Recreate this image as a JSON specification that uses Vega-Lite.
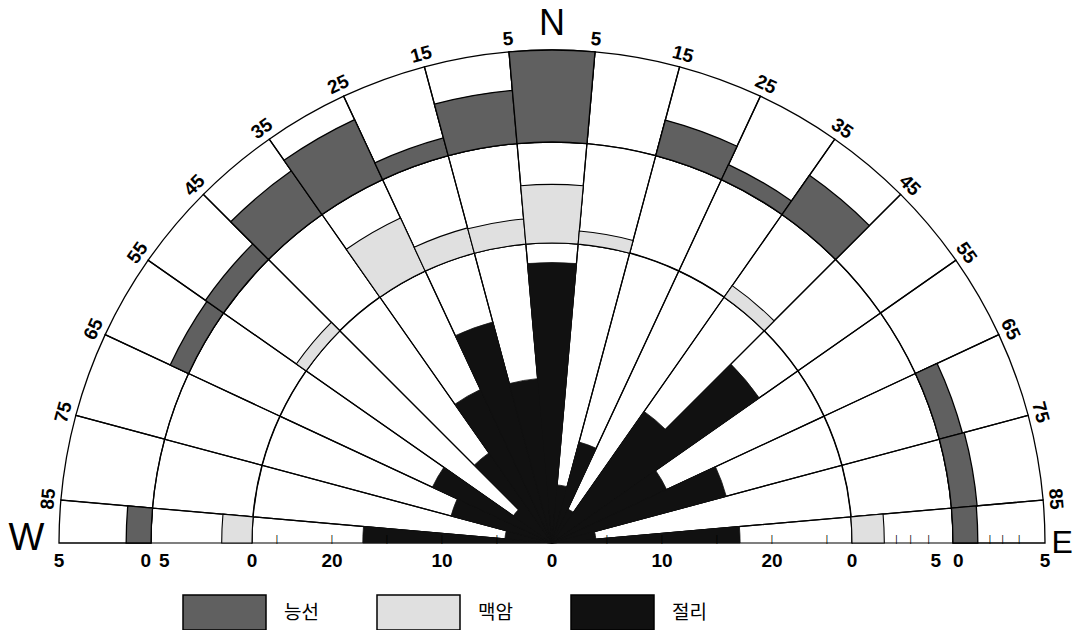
{
  "$schema": "https://vega.github.io/schema/vega-lite/v6.json",
  "width": 1036,
  "height": 543,
  "autosize": {"type": "none"},
  "padding": {"left": 34, "right": 4, "top": 0, "bottom": 87},
  "background": "white",
  "config": {"view": {"stroke": null}, "text": {"font": "Liberation Sans"}},
  "datasets": {
    "rose": [
      {"from": -90, "to": -85, "ridge": 1.35, "dyke": 1.5, "joint": 17.2},
      {"from": -85, "to": -75, "ridge": 0, "dyke": 0, "joint": 4.3},
      {"from": -75, "to": -65, "ridge": 0, "dyke": 0, "joint": 9.5},
      {"from": -65, "to": -55, "ridge": 1.1, "dyke": 0, "joint": 12},
      {"from": -55, "to": -45, "ridge": 1.2, "dyke": 0.6, "joint": 4.3},
      {"from": -45, "to": -35, "ridge": 2.9, "dyke": 0, "joint": 10},
      {"from": -35, "to": -25, "ridge": 3.6, "dyke": 2.9, "joint": 15.4},
      {"from": -25, "to": -15, "ridge": 1.0, "dyke": 1.3, "joint": 20.8},
      {"from": -15, "to": -5, "ridge": 2.9, "dyke": 1.25, "joint": 15},
      {"from": -5, "to": 5, "ridge": 5, "dyke": 2.9, "joint": 25.5},
      {"from": 5, "to": 15, "ridge": 0, "dyke": 0.65, "joint": 5.3},
      {"from": 15, "to": 25, "ridge": 2.0, "dyke": 0, "joint": 9.5},
      {"from": 25, "to": 35, "ridge": 0.9, "dyke": 0, "joint": 3.4},
      {"from": 35, "to": 45, "ridge": 2.6, "dyke": 0.7, "joint": 14.6},
      {"from": 45, "to": 55, "ridge": 0, "dyke": 0, "joint": 23},
      {"from": 55, "to": 65, "ridge": 0, "dyke": 0, "joint": 11.5},
      {"from": 65, "to": 75, "ridge": 1.3, "dyke": 0, "joint": 16.4},
      {"from": 75, "to": 85, "ridge": 1.4, "dyke": 0, "joint": 4},
      {"from": 85, "to": 90, "ridge": 1.35, "dyke": 1.6, "joint": 17.1}
    ],
    "deg": [
      {"az": -85, "label": "85"}, {"az": -75, "label": "75"}, {"az": -65, "label": "65"},
      {"az": -55, "label": "55"}, {"az": -45, "label": "45"}, {"az": -35, "label": "35"},
      {"az": -25, "label": "25"}, {"az": -15, "label": "15"}, {"az": -5, "label": "5"},
      {"az": 5, "label": "5"}, {"az": 15, "label": "15"}, {"az": 25, "label": "25"},
      {"az": 35, "label": "35"}, {"az": 45, "label": "45"}, {"az": 55, "label": "55"},
      {"az": 65, "label": "65"}, {"az": 75, "label": "75"}, {"az": 85, "label": "85"}
    ],
    "innerAxis": [
      {"az": -90, "value": 20, "label": "20"}, {"az": -90, "value": 10, "label": "10"},
      {"az": 0, "value": 0, "label": "0"},
      {"az": 90, "value": 10, "label": "10"}, {"az": 90, "value": 20, "label": "20"}
    ],
    "innerTicks": [
      {"az": -90, "value": 5}, {"az": -90, "value": 10}, {"az": -90, "value": 15}, {"az": -90, "value": 20}, {"az": -90, "value": 25},
      {"az": 90, "value": 5}, {"az": 90, "value": 10}, {"az": 90, "value": 15}, {"az": 90, "value": 20}, {"az": 90, "value": 25}
    ],
    "midTicks": [{"az": 90, "value": 2.2}, {"az": 90, "value": 2.9}, {"az": 90, "value": 3.8}],
    "outerTicks": [{"az": 90, "value": 2.0}, {"az": 90, "value": 2.7}, {"az": 90, "value": 3.6}],
    "zeroLabels": [{"az": -90, "value": 0, "label": "0"}, {"az": 90, "value": 0, "label": "0"}],
    "fiveLabels": [{"az": -90, "value": 5, "label": "5"}, {"az": 90, "value": 5, "label": "5"}],
    "leftFive": [{"az": -90, "value": 5, "label": "5"}],
    "rightFive": [{"az": 90, "value": 5, "label": "5"}],
    "leftZero": [{"az": -90, "value": 0, "label": "0"}],
    "rightZero": [{"az": 90, "value": 0, "label": "0"}],
    "north": [{"az": 0, "label": "N"}],
    "west": [{"az": -90, "label": "W"}],
    "east": [{"az": 90, "label": "E"}]
  },
  "layer": [
    {
      "layer": [
        {
          "data": {"name": "rose"},
          "mark": {"type": "arc", "x": {"expr": "width/2"}, "y": "height", "fillOpacity": 0, "stroke": "black", "strokeWidth": 1.2},
          "encoding": {
            "theta": {"field": "from", "type": "quantitative", "stack": null, "scale": {"type": "linear", "domain": [-90, 90], "range": [-1.5707963, 1.5707963]}},
            "theta2": {"field": "to"},
            "radius": {"datum": 27.3, "type": "quantitative", "scale": {"type": "linear", "domain": [0, 10], "range": [0, 110], "zero": false, "nice": false}},
            "radius2": {"datum": 0}
          }
        },
        {
          "data": {"name": "rose"},
          "transform": [{"filter": "datum.joint > 0"}],
          "mark": {"type": "arc", "x": {"expr": "width/2"}, "y": "height", "stroke": "#111111", "strokeWidth": 0.8},
          "encoding": {
            "theta": {"field": "from", "type": "quantitative", "stack": null, "scale": {"type": "linear", "domain": [-90, 90], "range": [-1.5707963, 1.5707963]}},
            "theta2": {"field": "to"},
            "radius": {"field": "joint", "type": "quantitative", "scale": {"type": "linear", "domain": [0, 10], "range": [0, 110], "zero": false, "nice": false}},
            "radius2": {"datum": 0},
            "fill": {"datum": "절리", "type": "nominal",
              "scale": {"domain": ["능선", "맥암", "절리"], "range": ["#606060", "#e0e0e0", "#111111"]},
              "legend": {"orient": "none", "legendX": 148, "legendY": 570, "direction": "horizontal", "title": null,
                "symbolType": "M-1,-0.42H1V0.42H-1Z", "symbolSize": 6889, "symbolStrokeColor": "black", "symbolStrokeWidth": 1.5,
                "labelFont": "Noto Sans CJK KR", "labelFontSize": 19, "labelColor": "black", "labelOffset": 17, "columnPadding": 55, "padding": 0}}
          }
        },
        {
          "data": {"name": "innerAxis"},
          "mark": {"type": "text", "x": {"expr": "width/2"}, "y": "height", "baseline": "top", "dy": 9, "fontSize": 19, "fontWeight": "bold", "color": "black"},
          "encoding": {
            "theta": {"field": "az", "type": "quantitative", "stack": null, "scale": {"type": "linear", "domain": [-90, 90], "range": [-1.5707963, 1.5707963]}},
            "radius": {"field": "value", "type": "quantitative", "scale": {"type": "linear", "domain": [0, 10], "range": [0, 110], "zero": false, "nice": false}},
            "text": {"field": "label"}
          }
        },
        {
          "data": {"name": "innerTicks"},
          "mark": {"type": "text", "x": {"expr": "width/2"}, "y": "height", "baseline": "alphabetic", "dy": -1, "fontSize": 9, "text": "|", "color": "black"},
          "encoding": {
            "theta": {"field": "az", "type": "quantitative", "stack": null, "scale": {"type": "linear", "domain": [-90, 90], "range": [-1.5707963, 1.5707963]}},
            "radius": {"field": "value", "type": "quantitative", "scale": {"type": "linear", "domain": [0, 10], "range": [0, 110], "zero": false, "nice": false}}
          }
        }
      ]
    },
    {
      "layer": [
        {
          "data": {"name": "rose"},
          "mark": {"type": "arc", "x": {"expr": "width/2"}, "y": "height", "fillOpacity": 0, "stroke": "black", "strokeWidth": 1.2},
          "encoding": {
            "theta": {"field": "from", "type": "quantitative", "stack": null, "scale": {"type": "linear", "domain": [-90, 90], "range": [-1.5707963, 1.5707963]}},
            "theta2": {"field": "to"},
            "radius": {"datum": 5, "type": "quantitative", "scale": {"type": "linear", "domain": [0, 5], "range": [300, 401], "zero": false, "nice": false}},
            "radius2": {"datum": 0}
          }
        },
        {
          "data": {"name": "rose"},
          "transform": [{"filter": "datum.dyke > 0"}],
          "mark": {"type": "arc", "x": {"expr": "width/2"}, "y": "height", "stroke": "black", "strokeWidth": 1.1},
          "encoding": {
            "theta": {"field": "from", "type": "quantitative", "stack": null, "scale": {"type": "linear", "domain": [-90, 90], "range": [-1.5707963, 1.5707963]}},
            "theta2": {"field": "to"},
            "radius": {"field": "dyke", "type": "quantitative", "scale": {"type": "linear", "domain": [0, 5], "range": [300, 401], "zero": false, "nice": false}},
            "radius2": {"datum": 0},
            "fill": {"datum": "맥암", "type": "nominal", "scale": {"domain": ["능선", "맥암", "절리"], "range": ["#606060", "#e0e0e0", "#111111"]}}
          }
        },
        {
          "data": {"name": "zeroLabels"},
          "mark": {"type": "text", "x": {"expr": "width/2"}, "y": "height", "baseline": "top", "dy": 9, "fontSize": 19, "fontWeight": "bold", "color": "black"},
          "encoding": {
            "theta": {"field": "az", "type": "quantitative", "stack": null, "scale": {"type": "linear", "domain": [-90, 90], "range": [-1.5707963, 1.5707963]}},
            "radius": {"field": "value", "type": "quantitative", "scale": {"type": "linear", "domain": [0, 5], "range": [300, 401], "zero": false, "nice": false}},
            "text": {"field": "label"}
          }
        },
        {
          "data": {"name": "leftFive"},
          "mark": {"type": "text", "x": {"expr": "width/2"}, "y": "height", "baseline": "top", "align": "left", "dx": 8, "dy": 9, "fontSize": 19, "fontWeight": "bold", "color": "black"},
          "encoding": {
            "theta": {"field": "az", "type": "quantitative", "stack": null, "scale": {"type": "linear", "domain": [-90, 90], "range": [-1.5707963, 1.5707963]}},
            "radius": {"field": "value", "type": "quantitative", "scale": {"type": "linear", "domain": [0, 5], "range": [300, 401], "zero": false, "nice": false}},
            "text": {"field": "label"}
          }
        },
        {
          "data": {"name": "rightFive"},
          "mark": {"type": "text", "x": {"expr": "width/2"}, "y": "height", "baseline": "top", "align": "right", "dx": -12, "dy": 9, "fontSize": 19, "fontWeight": "bold", "color": "black"},
          "encoding": {
            "theta": {"field": "az", "type": "quantitative", "stack": null, "scale": {"type": "linear", "domain": [-90, 90], "range": [-1.5707963, 1.5707963]}},
            "radius": {"field": "value", "type": "quantitative", "scale": {"type": "linear", "domain": [0, 5], "range": [300, 401], "zero": false, "nice": false}},
            "text": {"field": "label"}
          }
        },
        {
          "data": {"name": "midTicks"},
          "mark": {"type": "text", "x": {"expr": "width/2"}, "y": "height", "baseline": "alphabetic", "dy": -1, "fontSize": 9, "text": "|", "color": "black"},
          "encoding": {
            "theta": {"field": "az", "type": "quantitative", "stack": null, "scale": {"type": "linear", "domain": [-90, 90], "range": [-1.5707963, 1.5707963]}},
            "radius": {"field": "value", "type": "quantitative", "scale": {"type": "linear", "domain": [0, 5], "range": [300, 401], "zero": false, "nice": false}}
          }
        }
      ]
    },
    {
      "layer": [
        {
          "data": {"name": "rose"},
          "mark": {"type": "arc", "x": {"expr": "width/2"}, "y": "height", "fillOpacity": 0, "stroke": "black", "strokeWidth": 1.3},
          "encoding": {
            "theta": {"field": "from", "type": "quantitative", "stack": null, "scale": {"type": "linear", "domain": [-90, 90], "range": [-1.5707963, 1.5707963]}},
            "theta2": {"field": "to"},
            "radius": {"datum": 5, "type": "quantitative", "scale": {"type": "linear", "domain": [0, 5], "range": [401, 493], "zero": false, "nice": false}},
            "radius2": {"datum": 0}
          }
        },
        {
          "data": {"name": "rose"},
          "transform": [{"filter": "datum.ridge > 0"}],
          "mark": {"type": "arc", "x": {"expr": "width/2"}, "y": "height", "stroke": "black", "strokeWidth": 1.3},
          "encoding": {
            "theta": {"field": "from", "type": "quantitative", "stack": null, "scale": {"type": "linear", "domain": [-90, 90], "range": [-1.5707963, 1.5707963]}},
            "theta2": {"field": "to"},
            "radius": {"field": "ridge", "type": "quantitative", "scale": {"type": "linear", "domain": [0, 5], "range": [401, 493], "zero": false, "nice": false}},
            "radius2": {"datum": 0},
            "fill": {"datum": "능선", "type": "nominal", "scale": {"domain": ["능선", "맥암", "절리"], "range": ["#606060", "#e0e0e0", "#111111"]}}
          }
        },
        {
          "data": {"name": "deg"},
          "mark": {"type": "text", "x": {"expr": "width/2"}, "y": "height", "baseline": "bottom", "align": "center", "fontSize": 19, "fontWeight": "bold", "color": "black"},
          "encoding": {
            "theta": {"field": "az", "type": "quantitative", "stack": null, "scale": {"type": "linear", "domain": [-90, 90], "range": [-1.5707963, 1.5707963]}},
            "radius": {"datum": 5.15, "type": "quantitative", "scale": {"type": "linear", "domain": [0, 5], "range": [401, 493], "zero": false, "nice": false}},
            "angle": {"field": "az", "type": "quantitative", "scale": {"type": "linear", "domain": [-90, 90], "range": [-90, 90]}},
            "text": {"field": "label"}
          }
        },
        {
          "data": {"name": "fiveLabels"},
          "mark": {"type": "text", "x": {"expr": "width/2"}, "y": "height", "baseline": "top", "dy": 9, "fontSize": 19, "fontWeight": "bold", "color": "black"},
          "encoding": {
            "theta": {"field": "az", "type": "quantitative", "stack": null, "scale": {"type": "linear", "domain": [-90, 90], "range": [-1.5707963, 1.5707963]}},
            "radius": {"field": "value", "type": "quantitative", "scale": {"type": "linear", "domain": [0, 5], "range": [401, 493], "zero": false, "nice": false}},
            "text": {"field": "label"}
          }
        },
        {
          "data": {"name": "leftZero"},
          "mark": {"type": "text", "x": {"expr": "width/2"}, "y": "height", "baseline": "top", "align": "right", "dx": 0, "dy": 9, "fontSize": 19, "fontWeight": "bold", "color": "black"},
          "encoding": {
            "theta": {"field": "az", "type": "quantitative", "stack": null, "scale": {"type": "linear", "domain": [-90, 90], "range": [-1.5707963, 1.5707963]}},
            "radius": {"field": "value", "type": "quantitative", "scale": {"type": "linear", "domain": [0, 5], "range": [401, 493], "zero": false, "nice": false}},
            "text": {"field": "label"}
          }
        },
        {
          "data": {"name": "rightZero"},
          "mark": {"type": "text", "x": {"expr": "width/2"}, "y": "height", "baseline": "top", "align": "left", "dx": 0, "dy": 9, "fontSize": 19, "fontWeight": "bold", "color": "black"},
          "encoding": {
            "theta": {"field": "az", "type": "quantitative", "stack": null, "scale": {"type": "linear", "domain": [-90, 90], "range": [-1.5707963, 1.5707963]}},
            "radius": {"field": "value", "type": "quantitative", "scale": {"type": "linear", "domain": [0, 5], "range": [401, 493], "zero": false, "nice": false}},
            "text": {"field": "label"}
          }
        },
        {
          "data": {"name": "outerTicks"},
          "mark": {"type": "text", "x": {"expr": "width/2"}, "y": "height", "baseline": "alphabetic", "dy": -1, "fontSize": 9, "text": "|", "color": "black"},
          "encoding": {
            "theta": {"field": "az", "type": "quantitative", "stack": null, "scale": {"type": "linear", "domain": [-90, 90], "range": [-1.5707963, 1.5707963]}},
            "radius": {"field": "value", "type": "quantitative", "scale": {"type": "linear", "domain": [0, 5], "range": [401, 493], "zero": false, "nice": false}}
          }
        },
        {
          "data": {"name": "north"},
          "mark": {"type": "text", "x": {"expr": "width/2"}, "y": "height", "baseline": "middle", "align": "center", "fontSize": 36, "color": "black"},
          "encoding": {
            "theta": {"field": "az", "type": "quantitative", "stack": null, "scale": {"type": "linear", "domain": [-90, 90], "range": [-1.5707963, 1.5707963]}},
            "radius": {"datum": 6.4, "type": "quantitative", "scale": {"type": "linear", "domain": [0, 5], "range": [401, 493], "zero": false, "nice": false}},
            "text": {"field": "label"}
          }
        },
        {
          "data": {"name": "west"},
          "mark": {"type": "text", "x": {"expr": "width/2"}, "y": "height", "baseline": "middle", "align": "right", "dy": -4, "fontSize": 38, "color": "black"},
          "encoding": {
            "theta": {"field": "az", "type": "quantitative", "stack": null, "scale": {"type": "linear", "domain": [-90, 90], "range": [-1.5707963, 1.5707963]}},
            "radius": {"datum": 5.8, "type": "quantitative", "scale": {"type": "linear", "domain": [0, 5], "range": [401, 493], "zero": false, "nice": false}},
            "text": {"field": "label"}
          }
        },
        {
          "data": {"name": "east"},
          "mark": {"type": "text", "x": {"expr": "width/2"}, "y": "height", "baseline": "middle", "align": "left", "dy": 0, "fontSize": 32, "color": "black"},
          "encoding": {
            "theta": {"field": "az", "type": "quantitative", "stack": null, "scale": {"type": "linear", "domain": [-90, 90], "range": [-1.5707963, 1.5707963]}},
            "radius": {"datum": 5.35, "type": "quantitative", "scale": {"type": "linear", "domain": [0, 5], "range": [401, 493], "zero": false, "nice": false}},
            "text": {"field": "label"}
          }
        }
      ]
    }
  ],
  "resolve": {"scale": {"radius": "independent", "theta": "independent", "angle": "independent"}}
}
